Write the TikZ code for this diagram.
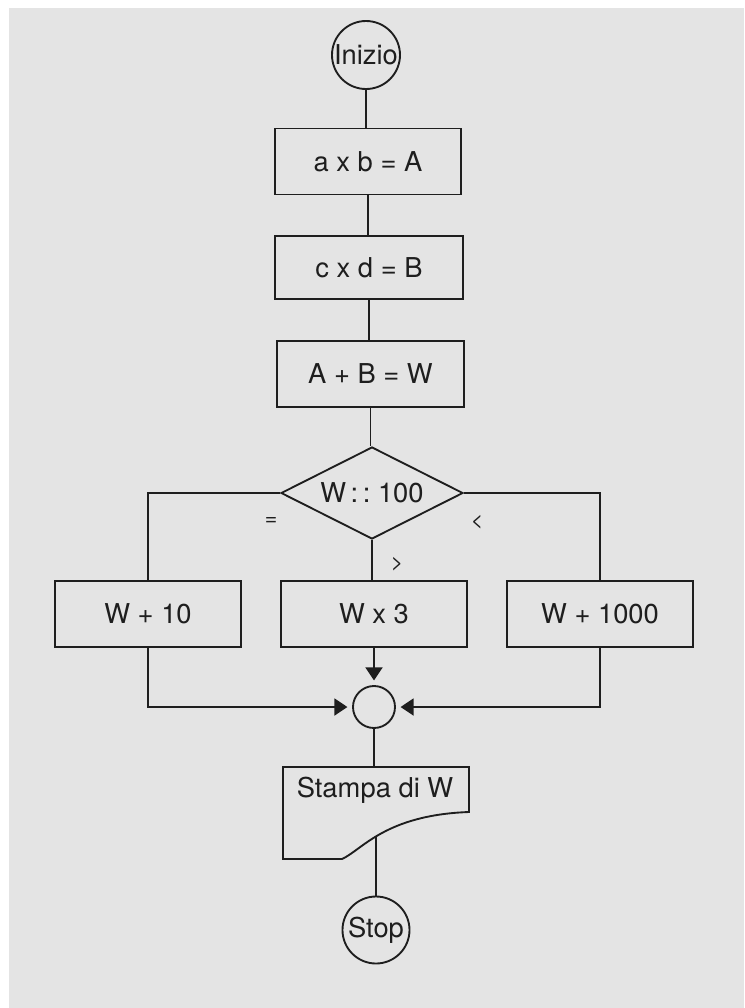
\documentclass[tikz,border=0pt]{standalone}
\usepackage{fontspec}
\setmainfont{TeX Gyre Heros}
\usetikzlibrary{shapes.geometric,arrows.meta}
\definecolor{bg}{RGB}{228,228,228}
\definecolor{ink}{RGB}{30,30,30}
\begin{document}
\begin{tikzpicture}[x=0.75pt,y=-0.75pt,
  every node/.style={text=ink, font=\fontsize{20.5pt}{23pt}\selectfont},
  line/.style={draw=ink, line width=1.4pt},
  procbox/.style={rectangle, draw=ink, line width=1.4pt, inner sep=0pt,
    minimum width=186*0.75pt, minimum height=66*0.75pt},
  term/.style={circle, draw=ink, line width=1.4pt, inner sep=0pt, minimum size=68*0.75pt},
  arr/.style={line, -{Triangle[width=12.75pt,length=9.75pt]}, shorten >=3.5pt},
  lab/.style={font=\fontsize{16pt}{18pt}\selectfont}]

\useasboundingbox (0,0) rectangle (744,1008);
\fill[white] (0,0) rectangle (744,1008);
\fill[bg] (9,8) rectangle (744,1008);

% nodes
\node[term] (inizio) at (366,55) {Inizio};
\node[procbox] (b1) at (368,161.5) {a x b = A};
\node[procbox, minimum height=63*0.75pt, minimum width=188*0.75pt] (b2) at (369,267.5) {c x d = B};
\node[procbox, minimum width=187*0.75pt] (b3) at (370.5,374) {A + B = W};
\node[diamond, draw=ink, line width=1.4pt, aspect=2, inner sep=0pt,
  minimum width=182*0.75pt, minimum height=92*0.75pt] (dia) at (372,493) {W\,:\,:\ 100};
\node[procbox] (w10) at (148,614) {W + 10};
\node[procbox] (wx3) at (374,614) {W x 3};
\node[procbox] (w1000) at (600,614) {W + 1000};
\node[circle, draw=ink, line width=1.4pt, minimum size=42*0.75pt, inner sep=0pt] (junc) at (374,707) {};
\node[term, minimum size=67*0.75pt] (stop) at (376,930) {Stop};

% stop connector (upper part hidden under the document shape)
\coordinate (dochid) at (376,800);
\draw[line] (stop.north) -- (dochid);

% document shape
\coordinate (dtl) at (283,767);
\coordinate (dtr) at (469,767);
\coordinate (dbr) at (469,812);
\coordinate (dbm) at (342,859);
\coordinate (dbl) at (283,859);
\filldraw[line, fill=bg] (dtl) -- (dtr) -- (dbr) .. controls (385,815) and (362,850) .. (dbm) -- (dbl) -- cycle;
\node (doc) at (375,790) {Stampa di W};

% connectors
\draw[line] (inizio.south) -- (inizio.south |- b1.north);
\draw[line] (b1.south) -- (b1.south |- b2.north);
\draw[line] (b2.south) -- (b2.south |- b3.north);
\draw[line] (b3.south) -- (b3.south |- dia.north);
\draw[line] (dia.west) -| (w10.north);
\draw[line] (dia.east) -| (w1000.north);
\draw[line] (dia.south) -- (dia.south |- wx3.north);
\draw[arr] (w10.south) |- (junc.west);
\draw[arr] (w1000.south) |- (junc.east);
\draw[arr] (wx3.south) -- (junc.north);
\draw[line] (junc.south) -- (junc.south |- dtl);

% branch labels
\node[lab] (leq) at (271,521) {=};
\node[lab] (llt) at (477,522) {<};
\node[lab] (lgt) at (397,564) {>};
\end{tikzpicture}
\end{document}
